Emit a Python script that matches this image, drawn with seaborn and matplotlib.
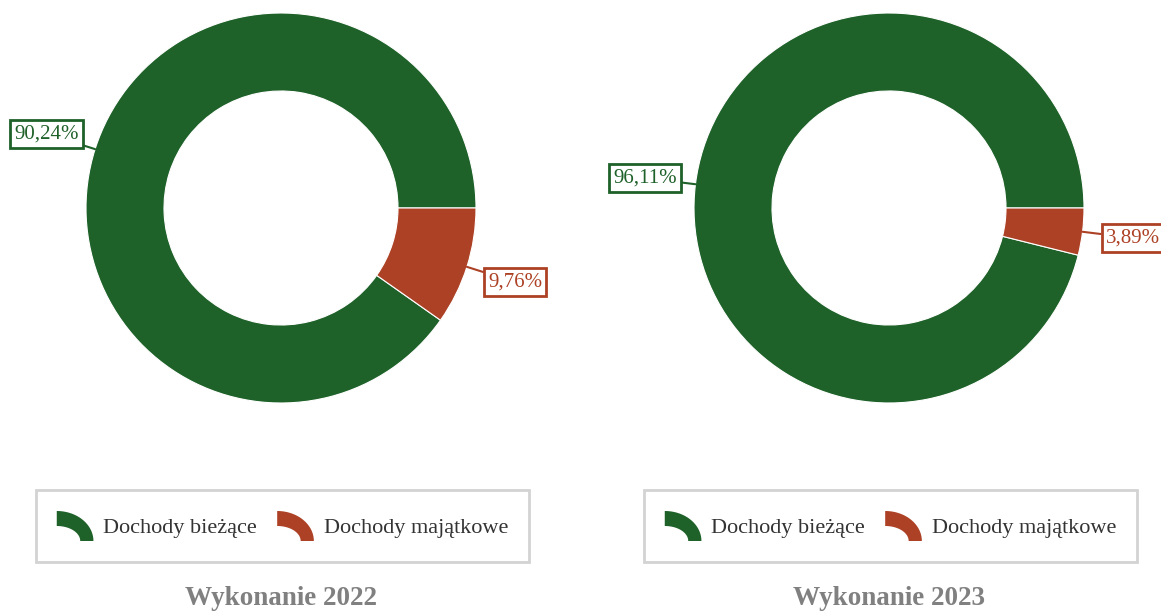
import numpy as np
import seaborn as sns
import matplotlib.pyplot as plt
from matplotlib.patches import Wedge, Polygon
from matplotlib.legend_handler import HandlerBase

years = ["Wykonanie 2022", "Wykonanie 2023"]
categories = ["Dochody bieżące", "Dochody majątkowe"]
share_2022 = [90.24, 9.76]
share_2023 = [96.11, 3.89]
shares = [share_2022, share_2023]

sns.set_theme(style="white")
plt.rcParams["font.family"] = ["Liberation Serif", "DejaVu Serif"]
colors = ["#1e6129", "#ad4125"]


class ArcHandler(HandlerBase):
    # legend symbol: a quarter of a ring
    def create_artists(self, legend, orig_handle, xdescent, ydescent,
                       width, height, fontsize, trans):
        x0, y0 = -xdescent, -ydescent
        t = np.linspace(0, np.pi / 2, 40)
        outer = np.column_stack([x0 + width * np.cos(t), y0 + height * np.sin(t)])
        inner = np.column_stack([x0 + 0.64 * width * np.cos(t[::-1]),
                                 y0 + 0.5 * height * np.sin(t[::-1])])
        p = Polygon(np.vstack([outer, inner]), closed=True,
                    facecolor=orig_handle.get_facecolor(), edgecolor="none",
                    transform=trans)
        return [p]


W, H = 1161, 613
fig = plt.figure(figsize=(W / 100, H / 100), dpi=100)

R = 195      # outer radius in px
S = 560      # axes side in px
centers = [281, 889]
cy = 208

for cx, vals, title in zip(centers, shares, years):
    ax = fig.add_axes([(cx - S / 2) / W, (H - cy - S / 2) / H, S / W, S / H])
    wedges, _ = ax.pie(vals, colors=colors, startangle=0, counterclock=True,
                       radius=1, wedgeprops=dict(width=0.4, edgecolor="white", linewidth=0.8))
    L = S / 2 / R
    ax.set_xlim(-L, L)
    ax.set_ylim(-L, L)
    ax.set_aspect("equal")
    ax.axis("off")

    for w, v, c in zip(wedges, vals, colors):
        ang = np.deg2rad((w.theta1 + w.theta2) / 2)
        x, y = np.cos(ang), np.sin(ang)
        ax.annotate(f"{v:.2f}".replace(".", ",") + "%", xy=(x, y),
                    xytext=(1.26 * x, 1.26 * y), ha="center", va="center",
                    color=c, fontsize=15,
                    bbox=dict(boxstyle="square,pad=0.2", fc="white", ec=c, lw=2),
                    arrowprops=dict(arrowstyle="-", color=c, lw=1.5,
                                    shrinkA=0, shrinkB=0))

    leg = fig.legend(wedges, categories, loc="center",
                     bbox_to_anchor=((cx + 1.5) / W, (H - 526) / H), ncol=2,
                     handler_map={Wedge: ArcHandler()}, fontsize=16,
                     handlelength=1.65, handleheight=1.7, handletextpad=0.45,
                     columnspacing=0.9, borderpad=0.95, fancybox=False,
                     frameon=True, labelcolor="#333333")
    leg.get_frame().set_edgecolor("#c8c8c8")
    leg.get_frame().set_linewidth(2)

    fig.text(cx / W, 2 / H, title, ha="center", va="bottom",
             fontsize=19.5, fontweight="bold", color="#808080")

fig.savefig("out.png", dpi=100)
